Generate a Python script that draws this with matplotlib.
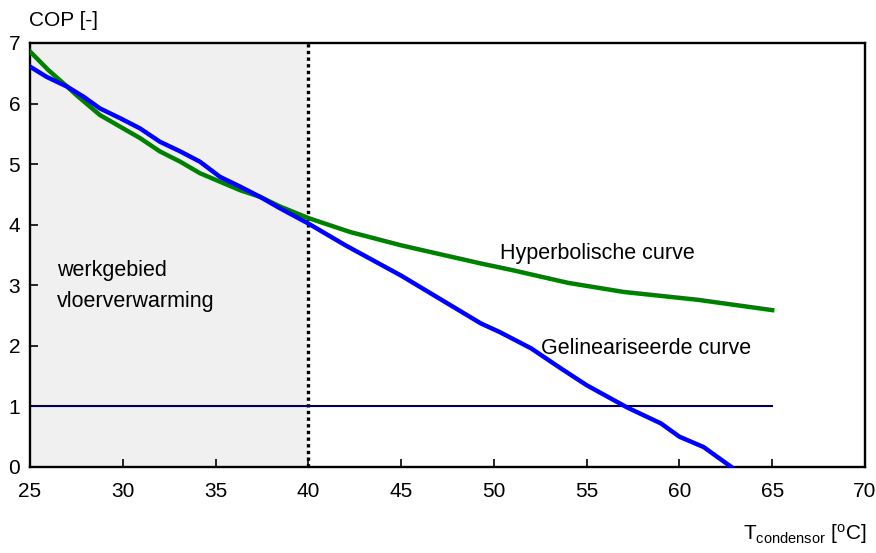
import matplotlib
matplotlib.use("Agg")
import matplotlib.pyplot as plt

plt.rcParams['font.family'] = ['Liberation Sans', 'DejaVu Sans']
plt.rcParams['mathtext.fontset'] = 'custom'
plt.rcParams['mathtext.rm'] = 'Liberation Sans'

# Hyperbolic curve
hyp_x = [25, 26, 27, 27.5, 28.77, 29.85, 30.93, 32.0, 33.1, 34.16, 35.24, 36.32, 37.4, 38.48, 40,
         42.25, 45, 47, 49.3, 51, 54, 57, 61, 65]
hyp_y = [6.86, 6.55, 6.28, 6.14, 5.81, 5.62, 5.43, 5.21, 5.04, 4.85, 4.71, 4.57, 4.46, 4.30, 4.11,
         3.88, 3.66, 3.52, 3.36, 3.25, 3.04, 2.89, 2.76, 2.59]

# Linearised curve
lin_x = [25, 25.9, 27, 27.9, 28.77, 29.85, 30.93, 32.0, 33.1, 34.16, 35.24, 36.32, 37.4, 38.48, 40,
         42, 45, 49.3, 50.3, 52, 53.6, 55, 57.2, 59, 60, 61.3, 62.8]
lin_y = [6.61, 6.44, 6.28, 6.11, 5.92, 5.76, 5.59, 5.37, 5.21, 5.04, 4.79, 4.63, 4.46, 4.27, 4.02,
         3.66, 3.16, 2.37, 2.23, 1.96, 1.63, 1.35, 0.98, 0.72, 0.5, 0.33, 0.0]

ref_x = [25, 65]
ref_y = [1, 1]

x_ticks = [25, 30, 35, 40, 45, 50, 55, 60, 65, 70]
y_ticks = [0, 1, 2, 3, 4, 5, 6, 7]

W, H = 876, 553
fig = plt.figure(figsize=(W / 100, H / 100), dpi=100)
ax = fig.add_axes([30 / W, 1 - 467 / H, (865 - 30) / W, (467 - 43) / H])

ax.axvspan(25, 40, color='#f0f0f0', zorder=0, lw=0)
ax.axvline(40, color='black', ls=(0, (1, 1)), lw=2.4, zorder=1)
ax.plot(ref_x, ref_y, color='#000050', lw=1.5, zorder=2)
ax.plot(hyp_x, hyp_y, color='#008000', lw=3.2, zorder=3, solid_joinstyle='round')
ax.plot(lin_x, lin_y, color='#d00000', lw=1.5, zorder=4)
ax.plot(lin_x, lin_y, color='#0000ff', lw=3.2, zorder=5, solid_joinstyle='round')

ax.set_xlim(25, 70)
ax.set_ylim(0, 7)
ax.set_xticks(x_ticks)
ax.set_yticks(y_ticks)
ax.tick_params(direction='in', length=6, labelsize=15, width=1.2)
ax.tick_params(axis='x', pad=11)
ax.tick_params(axis='y', pad=7)
for s in ax.spines.values():
    s.set_linewidth(1.7)

def px(x, y):
    return x / W, 1 - y / H

fig.text(*px(57, 270), 'werkgebied', fontsize=15.5, ha='left', va='center')
fig.text(*px(57, 301), 'vloerverwarming', fontsize=15.5, ha='left', va='center')
fig.text(*px(500, 253), 'Hyperbolische curve', fontsize=15.5, ha='left', va='center')
fig.text(*px(541, 349), 'Gelineariseerde curve', fontsize=15.5, ha='left', va='center')

fig.text(*px(29, 21), 'COP [-]', fontsize=15, ha='left', va='center')
fig.text(*px(867, 534), r'$\mathregular{T_{condensor}}$ $\mathregular{[^oC]}$', fontsize=15, ha='right', va='center')

fig.savefig('out.png', dpi=100)
